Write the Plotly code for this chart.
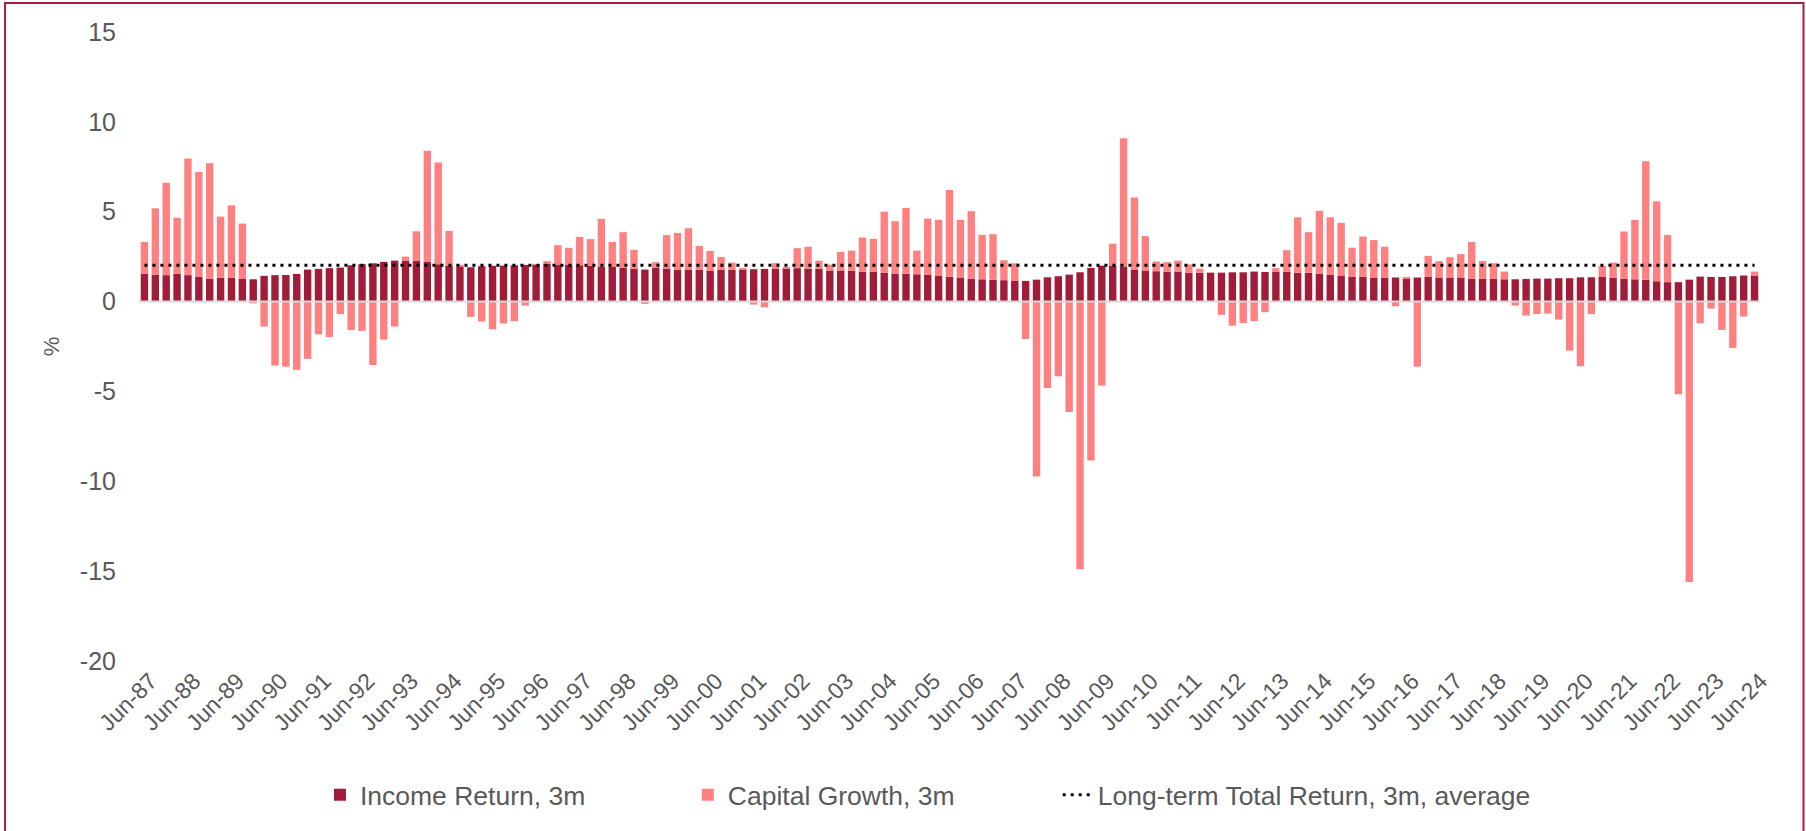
import plotly.graph_objects as go

# ---- data ----
start_year = 1987
quarter_months = ["Jun", "Sep", "Dec", "Mar"]

income_return = [
    1.54, 1.48, 1.47, 1.54, 1.47, 1.37, 1.28, 1.32, 1.32, 1.26,
    1.24, 1.43, 1.47, 1.48, 1.54, 1.78, 1.82, 1.86, 1.89, 2.02,
    2.08, 2.13, 2.21, 2.28, 2.28, 2.26, 2.21, 2.08, 2.00, 1.95,
    1.91, 1.97, 1.99, 2.00, 2.02, 2.04, 2.04, 2.10, 2.06, 2.06,
    2.02, 2.00, 1.95, 1.95, 1.89, 1.82, 1.78, 1.87, 1.84, 1.78,
    1.78, 1.78, 1.73, 1.76, 1.76, 1.80, 1.80, 1.82, 1.84, 1.86,
    1.86, 1.84, 1.82, 1.73, 1.73, 1.71, 1.67, 1.65, 1.60, 1.56,
    1.54, 1.52, 1.50, 1.45, 1.39, 1.34, 1.26, 1.24, 1.21, 1.19,
    1.17, 1.15, 1.22, 1.35, 1.41, 1.50, 1.63, 1.87, 2.00, 2.00,
    1.95, 1.78, 1.73, 1.69, 1.67, 1.67, 1.61, 1.61, 1.61, 1.61,
    1.63, 1.63, 1.67, 1.65, 1.67, 1.65, 1.61, 1.60, 1.56, 1.50,
    1.45, 1.39, 1.39, 1.34, 1.32, 1.34, 1.30, 1.34, 1.39, 1.34,
    1.34, 1.34, 1.28, 1.26, 1.26, 1.24, 1.24, 1.26, 1.28, 1.28,
    1.30, 1.30, 1.35, 1.35, 1.37, 1.32, 1.28, 1.24, 1.21, 1.13,
    1.08, 1.08, 1.22, 1.39, 1.37, 1.37, 1.41, 1.45, 1.45,
]

capital_growth = [
    1.78, 3.71, 5.14, 3.12, 6.49, 5.84, 6.42, 3.41, 4.03, 3.08,
    -0.10, -1.39, -3.56, -3.62, -3.80, -3.19, -1.82, -1.97, -0.70, -1.58,
    -1.63, -3.53, -2.12, -1.39, 0.22, 1.65, 6.18, 5.66, 1.93, 0.10,
    -0.85, -1.11, -1.54, -1.22, -1.09, -0.22, 0.02, 0.15, 1.08, 0.93,
    1.58, 1.48, 2.65, 1.37, 1.97, 1.06, -0.13, 0.32, 1.86, 2.04,
    2.30, 1.32, 1.09, 0.72, 0.41, 0.06, -0.17, -0.32, 0.30, 0.02,
    1.11, 1.21, 0.46, 0.33, 1.04, 1.13, 1.89, 1.84, 3.40, 2.91,
    3.67, 1.32, 3.12, 3.10, 4.82, 3.21, 3.77, 2.47, 2.54, 1.11,
    0.96, -2.08, -9.74, -4.81, -4.16, -6.15, -14.90, -8.85, -4.68, 1.22,
    7.14, 4.01, 1.91, 0.54, 0.52, 0.61, 0.46, 0.22, -0.02, -0.74,
    -1.34, -1.19, -1.09, -0.59, 0.19, 1.21, 3.08, 2.26, 3.49, 3.19,
    2.93, 1.61, 2.23, 2.08, 1.73, -0.26, 0.04, -3.62, 1.15, 0.91,
    1.13, 1.30, 2.04, 1.00, 0.87, 0.43, -0.22, -0.78, -0.69, -0.67,
    -1.00, -2.73, -3.60, -0.70, 0.61, 0.85, 2.62, 3.30, 6.60, 4.45,
    2.63, -5.16, -15.60, -1.21, -0.39, -1.58, -2.58, -0.83, 0.22,
]

long_term_total_avg = 2.02

y_tick_values = [-20, -15, -10, -5, 0, 5, 10, 15]
y_tick_labels = ["-20", "-15", "-10", "-5", "0", "5", "10", "15"]

# quarterly category labels Jun-87 ... Jun-24
quarters = []
for k in range(len(income_return)):
    m = quarter_months[k % 4]
    y = start_year + (k + 2) // 4
    quarters.append(f"{m}-{y % 100:02d}")

tick_labels = [q for q in quarters if q.startswith("Jun")]

avg_line = [long_term_total_avg for _ in quarters]

# ---- styling ----
DARK = "#A01C38"
LIGHT = "#FF8080"
TXT = "#595959"
FONT = "Arial, Liberation Sans, sans-serif"

fig = go.Figure()
fig.add_trace(go.Bar(x=quarters, y=income_return, name="Income Return, 3m",
                     marker=dict(color=DARK, line=dict(width=0)),
                     legend="legend"))
fig.add_trace(go.Bar(x=quarters, y=capital_growth, name="Capital Growth, 3m",
                     marker=dict(color=LIGHT, line=dict(width=0)),
                     legend="legend2"))
fig.add_trace(go.Scatter(x=quarters, y=avg_line, mode="lines",
                         name="Long-term Total Return, 3m, average",
                         line=dict(color="black", width=3, dash="3px,5px"),
                         legend="legend3"))

L, R, T, B = 139, 45.5, 32, 170
W, H = 1806, 831
pw = W - L - R
ph = H - T - B


def px(xp):
    return (xp - L) / pw


def py(yp):
    return (H - B - yp) / ph


def legend_at(text_start):
    return dict(orientation="h", x=px(text_start - 40), xanchor="left",
                y=py(795), yanchor="middle",
                font=dict(size=26.5, color=TXT, family=FONT),
                bgcolor="rgba(0,0,0,0)")


fig.update_layout(
    width=W, height=H,
    margin=dict(l=L, r=R, t=T, b=B, autoexpand=False),
    paper_bgcolor="white", plot_bgcolor="white",
    barmode="relative", bargap=0.32,
    font=dict(family=FONT, color=TXT, size=24),
    showlegend=True,
    legend=legend_at(360),
    legend2=legend_at(728),
    legend3=legend_at(1098),
    xaxis=dict(type="category", tickmode="array", tickvals=tick_labels,
               ticktext=tick_labels, tickangle=-45, showgrid=False,
               showline=False, zeroline=False, ticks="",
               tickfont=dict(size=23, color=TXT), ticklabelstandoff=1,
               ticklabelshift=6),
    yaxis=dict(range=[-20, 15], tickmode="array", tickvals=y_tick_values,
               ticktext=y_tick_labels, showgrid=False,
               zeroline=False, showline=False, ticks="",
               tickfont=dict(size=25, color=TXT), ticklabelstandoff=22,
               title=dict(text="%", font=dict(size=22, color=TXT), standoff=14)),
    shapes=[
        dict(type="line", xref="paper", yref="y", x0=0, x1=1, y0=0, y1=0,
             line=dict(color="#D9D9D9", width=2), layer="above"),
        dict(type="rect", xref="paper", yref="paper",
             x0=px(5), x1=px(1804), y0=py(3), y1=py(840),
             line=dict(color="#A3213F", width=2), fillcolor="rgba(0,0,0,0)",
             layer="below"),
    ],
)

fig.write_html("out.html", config={"displayModeBar": False},
               post_script="document.body.style.margin='0';")
